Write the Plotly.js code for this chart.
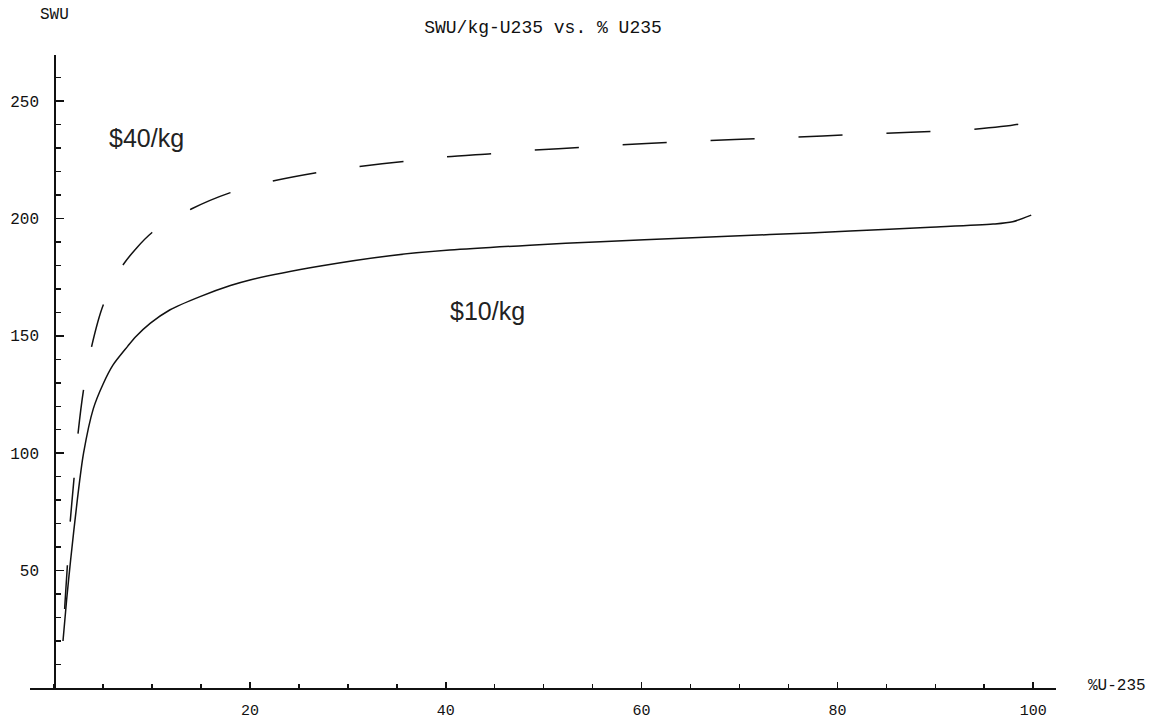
<!DOCTYPE html>
<html>
<head>
<meta charset="utf-8">
<script src="https://cdn.plot.ly/plotly-3.0.1.min.js"></script>
<style>
html,body{margin:0;padding:0;background:#fff;}
#chart{width:1154px;height:721px;}
</style>
</head>
<body>
<div id="chart"></div>
<script>
// $40/kg curve (dashed)
const dashedX = [0.9, 1.1, 1.3, 1.6, 2.0, 2.4, 3.0, 3.8, 5.0, 7.0, 10, 14, 18, 22, 27, 31, 36, 40, 45, 49, 54, 58, 63, 67, 72, 76, 81, 85, 90, 94, 98.6, 100];
const dashedY = [20, 36, 49, 69, 88, 107, 127, 145, 163, 180, 194, 204, 211, 215.6, 219.6, 222, 224.4, 226.2, 227.7, 229.1, 230.3, 231.4, 232.4, 233.2, 234.0, 234.7, 235.6, 236.3, 237.1, 238.0, 240.2, 242];
// $10/kg curve (solid)
const solidX = [0.9, 1.27, 1.68, 2.36, 3.0, 4.0, 5.0, 6.0, 7.5, 8.3, 9.8, 11.8, 14.9, 18, 20, 27.2, 34.3, 40.4, 48.6, 55.8, 64.6, 73.1, 81.3, 89.5, 95.9, 97.9, 99.8];
const solidY = [20, 37.5, 54.5, 80, 100, 119, 129.5, 137.5, 145.5, 149.5, 155.3, 161, 166.7, 171.4, 173.8, 179.7, 184.1, 186.5, 188.6, 190.1, 191.7, 193.1, 194.6, 196.2, 197.6, 198.6, 201.4];

const xTicks = [20, 40, 60, 80, 100];
const yTicks = [50, 100, 150, 200, 250];

const titleText = "SWU/kg-U235 vs. % U235";
const yLabel = "SWU";
const xLabel = "%U-235";
const curveLabels = ["$40/kg", "$10/kg"];

// dash pattern with an initial gap (phase offset)
let dashParts = ["0px", "32px"];
for (let i = 0; i < 30; i++) { dashParts.push("44px", "44px"); }
const dashPattern = dashParts.join(",");

const monoFont = "Liberation Mono, DejaVu Sans Mono, monospace";

const traces = [
  {x: dashedX, y: dashedY, type: "scatter", mode: "lines",
   line: {color: "#111", width: 1.5, dash: dashPattern, shape: "spline", smoothing: 0.8}, hoverinfo: "skip"},
  {x: solidX, y: solidY, type: "scatter", mode: "lines",
   line: {color: "#111", width: 1.5, shape: "spline", smoothing: 0.8}, hoverinfo: "skip"}
];

const layout = {
  width: 1154, height: 721,
  margin: {l: 30, r: 98, t: 55, b: 33},
  paper_bgcolor: "#fff", plot_bgcolor: "#fff",
  showlegend: false,
  title: {text: titleText, x: 543/1154, xref: "container", xanchor: "center",
          y: 1 - 27/721, yref: "container", yanchor: "middle",
          font: {family: monoFont, size: 18, color: "#111"}},
  xaxis: {
    range: [-2.47, 102.33], showgrid: false, zeroline: false,
    showline: true, linecolor: "#111", linewidth: 1.5,
    tickmode: "array", tickvals: xTicks,
    ticks: "inside", ticklen: 6, tickwidth: 1.5, tickcolor: "#111",
    minor: {dtick: 5, tick0: 0, ticks: "inside", ticklen: 4, tickwidth: 1.5, tickcolor: "#111", showgrid: false},
    ticklabelstandoff: 7,
    tickfont: {family: monoFont, size: 15, color: "#111"}
  },
  yaxis: {
    range: [0, 269.6], showgrid: false, zeroline: false,
    anchor: "free", position: (54.2 - 30) / 1026,
    showline: true, linecolor: "#111", linewidth: 1.5,
    tickmode: "array", tickvals: yTicks,
    ticks: "inside", ticklen: 8, tickwidth: 1.5, tickcolor: "#111",
    minor: {dtick: 10, tick0: 0, ticks: "inside", ticklen: 5, tickwidth: 1.5, tickcolor: "#111", showgrid: false},
    ticklabelstandoff: 12,
    tickfont: {family: monoFont, size: 16, color: "#111"}
  },
  annotations: [
    {text: yLabel, xref: "paper", yref: "paper", x: (54 - 30) / 1026, y: (688 - 15) / 633,
     showarrow: false, xanchor: "center", yanchor: "middle",
     font: {family: monoFont, size: 16, color: "#111"}},
    {text: xLabel, xref: "paper", yref: "paper", x: (1117 - 30) / 1026, y: (688 - 686) / 633,
     showarrow: false, xanchor: "center", yanchor: "middle",
     font: {family: monoFont, size: 16, color: "#111"}},
    {text: curveLabels[0], xref: "x", yref: "y", x: 9.38, y: 234.4,
     showarrow: false, xanchor: "center", yanchor: "middle",
     font: {family: "Liberation Sans, Arial, sans-serif", size: 25, color: "#222"}},
    {text: curveLabels[1], xref: "x", yref: "y", x: 44.3, y: 160.6,
     showarrow: false, xanchor: "center", yanchor: "middle",
     font: {family: "Liberation Sans, Arial, sans-serif", size: 25, color: "#222"}}
  ]
};

Plotly.newPlot("chart", traces, layout, {staticPlot: true, displayModeBar: false});
</script>
</body>
</html>
